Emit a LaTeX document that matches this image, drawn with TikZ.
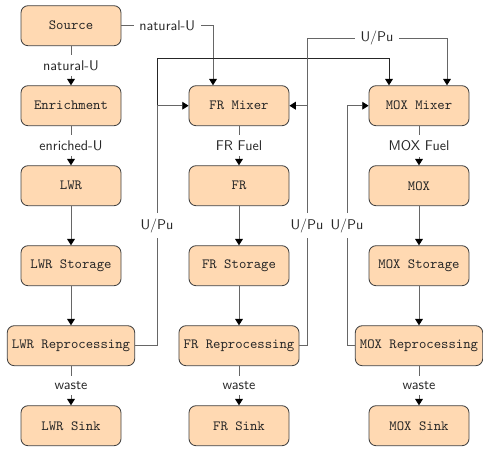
\documentclass[tikz,border=0pt]{standalone}
\usepackage{amsmath}
\usepackage{tikz}
\usetikzlibrary{arrows.meta}

\begin{document}
\begin{tikzpicture}[semithick, y=-1cm]
		\useasboundingbox (0,0) rectangle (12.075,11.225);
		\begin{scope}[every node/.style={rectangle,rounded corners=5pt,draw=black!75,fill=orange!30,text=black!85,
				minimum width=2.5cm,minimum height=1cm,font=\ttfamily} ]
			\node (src) at(1.775,0.6425) {Source};
			\node (enr) at(1.775,2.6425) {Enrichment};
			\node (lwr) at(1.775,4.6425) {LWR};
			\node (lwrsto) at(1.775,6.6425) {LWR Storage};
			\node (lwrrep) at(1.775,8.6425) {LWR Reprocessing};
			\node (lwrsink) at(1.775,10.6425) {LWR Sink};
			\node (frmix) at(5.975,2.6425) {FR Mixer};
			\node (fr) at(5.975,4.6425) {FR};
			\node (frsto) at(5.975,6.6425) {FR Storage};
			\node (frrep) at(5.975,8.6425) {FR Reprocessing};
			\node (frsink) at(5.975,10.6425) {FR Sink};
			\node (moxmix) at(10.475,2.6425) {MOX Mixer};
			\node (mox) at(10.475,4.6425) {MOX};
			\node (moxsto) at(10.475,6.6425) {MOX Storage};
			\node (moxrep) at(10.475,8.6425) {MOX Reprocessing};
			\node (moxsink) at(10.475,10.6425) {MOX Sink};
		\end{scope}
		\begin{scope}[every node/.style={fill=white,text=black!85,font=\sffamily,inner sep=4pt},
				flow/.style={draw=black!60,-{Triangle[color=black,width=5.5pt,length=4.5pt]}}]
			% down the columns
			\draw[flow] (src) -- node {natural-U} (enr);
			\draw[flow] (enr) -- node {enriched-U} (lwr);
			\draw[flow] (lwr) -- (lwrsto);
			\draw[flow] (lwrsto) -- (lwrrep);
			\draw[flow] (lwrrep) -- node {waste} (lwrsink);
			\draw[flow] (frmix) -- node {FR Fuel} (fr);
			\draw[flow] (fr) -- (frsto);
			\draw[flow] (frsto) -- (frrep);
			\draw[flow] (frrep) -- node {waste} (frsink);
			\draw[flow] (moxmix) -- node {MOX Fuel} (mox);
			\draw[flow] (mox) -- (moxsto);
			\draw[flow] (moxsto) -- (moxrep);
			\draw[flow] (moxrep) -- node {waste} (moxsink);
			% feeds into the mixers
			\draw[flow] (src.east) -| node[pos=0.25] {natural-U} ([xshift=-0.65cm]frmix.north);
			\draw[flow,draw=black!85] (lwrrep.east) -| (3.925,1.45) -| ([xshift=-0.75cm]moxmix.north);
			\draw[flow] (lwrrep.east) -| node[pos=0.75] {U/Pu} (3.925,2.6425) -- (frmix.west);
			\draw[flow] (frrep.east) -| (7.675,0.95) -| node[pos=0.25] {U/Pu} ([xshift=0.7cm]moxmix.north);
			\draw[flow] (frrep.east) -| node[pos=0.75] {U/Pu} (7.675,2.6425) -- (frmix.east);
			\draw[flow] (moxrep.west) -| node[pos=0.75] {U/Pu} (8.675,2.6425) -- (moxmix.west);
		\end{scope}
	\end{tikzpicture}
\end{document}
